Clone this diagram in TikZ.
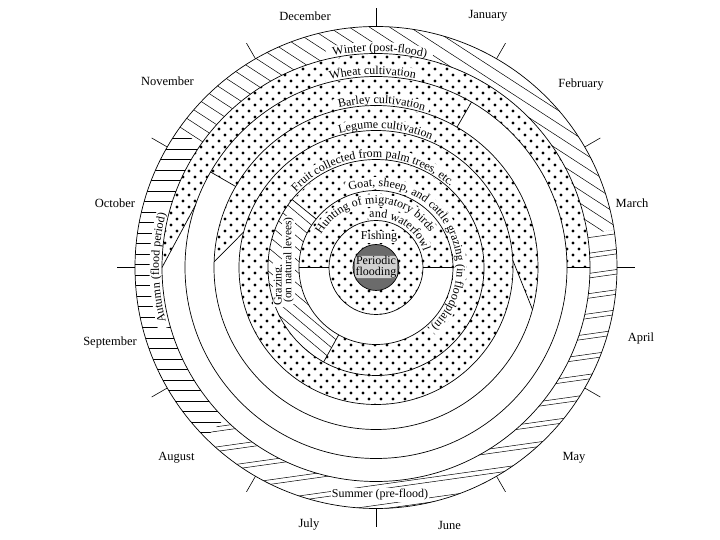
\documentclass[tikz,border=0pt]{standalone}
\usepackage{fontspec}
\setmainfont{Liberation Serif}
\usetikzlibrary{patterns,decorations.text}
\pgfdeclarepatternformonly{bigdots}{\pgfqpoint{-2pt}{-2pt}}{\pgfqpoint{14pt}{14pt}}{\pgfqpoint{12pt}{12pt}}{%
  \pgfpathcircle{\pgfqpoint{3pt}{3pt}}{1.6pt}%
  \pgfpathcircle{\pgfqpoint{9pt}{9pt}}{1.6pt}%
  \pgfusepath{fill}}
% white band behind a curved text: radius, centre angle, half angle
\newcommand{\arcband}[3]{%
  \fill[white] ({#2+#3}:{#1-3}) arc[start angle={#2+#3},end angle={#2-#3},radius={#1-3}]
    -- ({#2-#3}:{#1+9.5}) arc[start angle={#2-#3},end angle={#2+#3},radius={#1+9.5}] -- cycle;}
% curved text: radius, centre angle, text
\newcommand{\arcletters}[3]{%
  \path[decorate,decoration={text along path,text={|\fontsize{12}{14}\selectfont|#3},text align=center}]
    ({#2+100}:#1) arc[start angle={#2+100},end angle={#2-100},radius=#1];}
\begin{document}
\begin{tikzpicture}[x=1pt,y=1pt,line width=0.7pt,
  font=\fontsize{12}{14}\selectfont,
  hatch/.style={line width=0.5pt},
  month/.style={font=\fontsize{12.5}{14}\selectfont},
  dotfill/.style={pattern=bigdots},
  label/.style={fill=white,inner sep=1pt}]
\useasboundingbox (-376,-272.5) rectangle (344,267.5);

% ---- dotted regions
\path[dotfill] (0:214) arc[start angle=0,end angle=180,radius=214] -- (161:191) arc[start angle=161,end angle=0,radius=191] -- cycle;
\path[dotfill] (60:191) arc[start angle=60,end angle=150,radius=191] -- (150:162) arc[start angle=150,end angle=60,radius=162] -- cycle;
\path[dotfill] (-15:162) arc[start angle=-15,end angle=178,radius=162] -- (165:137) arc[start angle=165,end angle=3,radius=137] -- cycle;
\path[dotfill,even odd rule] (0,0) circle[radius=137] (0,0) circle[radius=108];
\path[dotfill] (241:108) arc[start angle=241,end angle=501,radius=108] -- (501:77) arc[start angle=501,end angle=241,radius=77] -- cycle;
\path[dotfill] (0:77) arc[start angle=0,end angle=180,radius=77] -- (180:47) arc[start angle=180,end angle=0,radius=47] -- cycle;
\path[dotfill,even odd rule] (0,0) circle[radius=47] (0,0) circle[radius=23];

% ---- hatched seasons
\begin{scope}
\clip (9:241) arc[start angle=9,end angle=145,radius=241] -- (145:214) arc[start angle=145,end angle=9,radius=214] -- cycle;
\foreach \k in {-26,...,26} \draw[hatch,rotate=-33] (-270,\k*11) -- (270,\k*11);
\end{scope}
\begin{scope}
\clip (145:241) arc[start angle=145,end angle=225,radius=241] -- (225:214) arc[start angle=225,end angle=145,radius=214] -- cycle;
\foreach \k in {-24,...,24} \draw[hatch] (-260,\k*10.5+3) -- (0,\k*10.5+3);
\end{scope}
\begin{scope}
\clip (225:241) arc[start angle=225,end angle=369,radius=241] -- (369:214) arc[start angle=369,end angle=225,radius=214] -- cycle;
\foreach \k in {-13,...,13} {\draw[hatch,rotate=8] (-270,\k*20) -- (270,\k*20);
  \draw[hatch,rotate=8] (-270,\k*20+4.5) -- (270,\k*20+4.5);}
\end{scope}
\begin{scope}
\clip (141:108) arc[start angle=141,end angle=241,radius=108] -- (241:77) arc[start angle=241,end angle=141,radius=77] -- cycle;
\foreach \k in {-16,...,16} \draw[hatch,rotate=-40] (-200,\k*9) -- (200,\k*9);
\end{scope}

% ---- white bands behind curved texts
\arcband{216}{89}{14}
\arcband{193}{91}{14.2}
\arcband{164}{88}{16.6}
\arcband{139}{86}{20.8}
\arcband{110}{92}{46}
\arcband{81}{31}{79.5}
\arcband{64}{91}{59.5}
\arcband{50}{58}{41}
\arcband{217}{180}{16}

% ---- outlines
\foreach \r in {241,214,191,162,137,108,77,47} \draw (0,0) circle[radius=\r];
\draw (0:191) -- (0:214) (161:191) -- (180:214);
\draw (60:162) -- (60:191) (150:162) -- (150:191);
\draw (3:137) -- (-15:162) (165:137) -- (178:162);
\draw (141:77) -- (141:108) (241:77) -- (241:108);
\draw (0:47) -- (0:77) (180:47) -- (180:77);
\fill[black!58] (0,0) circle[radius=23];
\draw (0,0) circle[radius=23];

% ---- month ticks
\foreach \a in {0,30,...,330} \draw[line width=0.6pt] (\a:241) -- (\a:259);

% ---- ring texts
\arcletters{216}{89}{Winter (post-flood)}
\arcletters{193}{91}{Wheat cultivation}
\arcletters{164}{88}{Barley cultivation}
\arcletters{139}{86}{Legume cultivation}
\arcletters{110}{92}{Fruit collected from palm trees, etc.}
\arcletters{81}{31}{Goat, sheep, and cattle grazing (in floodplain)}
\arcletters{64}{91}{Hunting of migratory birds}
\arcletters{50}{58}{and waterfowl}
\arcletters{217}{180}{Autumn (flood period)}

\node[label] (summer) at (4,-227.5) {Summer (pre-flood)};
\node[label,rotate=90] (grazing) at (-97,-17.5) {Grazing,};
\node[label,rotate=90,font=\fontsize{11.5}{13}\selectfont] (levees) at (-87.5,7.5) {(on natural levees)};
\node[fill=white,inner sep=0.5pt] (fishing) at (3,30.5) {Fishing};
\node[fill=black!18,rounded corners=3pt,inner sep=0.5pt,align=center,font=\fontsize{12}{10.5}\selectfont] (flood) at (0,0.5) {Periodic\\flooding};

% ---- months
\node[month] (dec) at (-71,251.5) {December};
\node[month] (jan) at (112,251.5) {January};
\node[month] (feb) at (205,182.5) {February};
\node[month] (mar) at (256,64.5) {March};
\node[month] (apr) at (265,-70.5) {April};
\node[month] (may) at (198,-190.5) {May};
\node[month] (jun) at (73.5,-257.5) {June};
\node[month] (jul) at (-67,-257.5) {July};
\node[month] (aug) at (-199.5,-190.5) {August};
\node[month] (sep) at (-266,-74.5) {September};
\node[month] (oct) at (-261,64.5) {October};
\node[month] (nov) at (-208.5,186.5) {November};
\end{tikzpicture}
\end{document}
